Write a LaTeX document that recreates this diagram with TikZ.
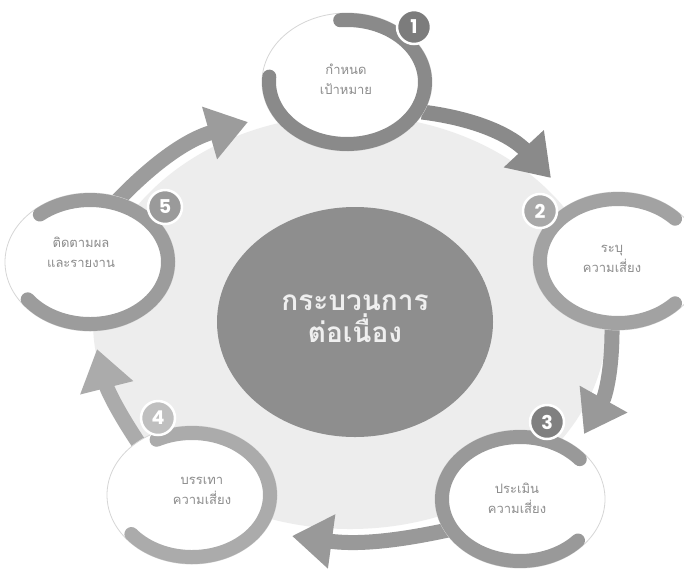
\documentclass[tikz,border=0pt]{standalone}
\usepackage{fontspec}
\newfontfamily\thaifont[Script=Thai]{Loma}
\newfontfamily\numfont{Poppins}
\usetikzlibrary{arrows.meta}
\definecolor{bgtone}{HTML}{EDEDED}
\definecolor{coretone}{HTML}{8E8E8E}
\definecolor{ringline}{HTML}{D6D6D6}
\definecolor{ringA}{HTML}{8A8A8A}
\definecolor{ringB}{HTML}{A2A2A2}
\definecolor{ringC}{HTML}{999999}
\definecolor{ringD}{HTML}{ABABAB}
\definecolor{ringE}{HTML}{9C9C9C}
\definecolor{badgeA}{HTML}{7C7C7C}
\definecolor{badgeB}{HTML}{A8A8A8}
\definecolor{badgeC}{HTML}{808080}
\definecolor{badgeD}{HTML}{BFBFBF}
\definecolor{badgeE}{HTML}{9A9A9A}
\definecolor{labeltone}{HTML}{8C8C8C}
\definecolor{coretext}{HTML}{EFEFEF}
\begin{document}
\begin{tikzpicture}[x=1pt,y=1pt,
  satfill/.style={fill=white, draw=ringline, line width=0.8pt},
  ringarc/.style={line width=14pt, line cap=round},
  flowarrow/.style={line width=15pt, -{Triangle[length=40pt,width=52pt]}},
  badge/.style={circle, minimum size=34pt, inner sep=0pt, draw=white, line width=2.5pt,
    text=white, font=\numfont\bfseries\fontsize{19}{19}\selectfont},
  sattext/.style={align=center, text=labeltone, inner sep=0pt,
    font=\thaifont\fontsize{13}{20}\selectfont},
  coretxt/.style={align=center, text=coretext, inner sep=0pt,
    font=\thaifont\bfseries\fontsize{28}{32}\selectfont}]
\useasboundingbox (0,0) rectangle (684,-574);
\fill[white] (0,0) rectangle (684,-574);
% light background
\fill[bgtone] (350,-322) ellipse [x radius=257, y radius=207];

% arrow end points
\coordinate (a12s) at (422,-112); \coordinate (a12e) at (551,-178);
\coordinate (a23s) at (612,-324); \coordinate (a23e) at (584,-434);
\coordinate (a34s) at (448,-530); \coordinate (a34e) at (292,-536);
\coordinate (a45s) at (140,-445); \coordinate (a45e) at (97,-349);
\coordinate (a51s) at (118,-200); \coordinate (a51e) at (248,-122);

\draw[flowarrow, draw=ringA] (a12s) to[bend left=20] (a12e);
\draw[flowarrow, draw=ringC] (a23s) to[bend left=15] (a23e);
\draw[flowarrow, draw=ringC] (a34s) to[bend left=10] (a34e);
\draw[flowarrow, draw=ringD] (a45s) to[bend left=10] (a45e);
\draw[flowarrow, draw=ringE] (a51s) to[bend left=15] (a51e);

% circle 1
\draw[satfill] (347,-82) ellipse [x radius=85, y radius=69];
\draw[ringarc, draw=ringA] (347,-82) ++(-185:78 and 62) arc[start angle=-185, end angle=95, x radius=78, y radius=62];
% circle 2
\draw[satfill] (618,-261) ellipse [x radius=85, y radius=69];
\draw[ringarc, draw=ringB] (618,-261) ++(43:78 and 62) arc[start angle=43, end angle=317, x radius=78, y radius=62];
% circle 3
\draw[satfill] (520,-499) ellipse [x radius=85, y radius=69];
\draw[ringarc, draw=ringC] (520,-499) ++(40:78 and 62) arc[start angle=40, end angle=318, x radius=78, y radius=62];
% circle 4
\draw[satfill] (192,-495) ellipse [x radius=85, y radius=69];
\draw[ringarc, draw=ringD] (192,-495) ++(-141:78 and 62) arc[start angle=-141, end angle=117, x radius=78, y radius=62];
% circle 5
\draw[satfill] (90,-262) ellipse [x radius=85, y radius=69];
\draw[ringarc, draw=ringE] (90,-262) ++(-143:78 and 62) arc[start angle=-143, end angle=130, x radius=78, y radius=62];

% badges
\node[badge, fill=badgeA] (n1) at (414,-27) {1};
\node[badge, fill=badgeB] (n2) at (540,-211) {2};
\node[badge, fill=badgeC] (n3) at (547,-422) {3};
\node[badge, fill=badgeD] (n4) at (158,-418) {4};
\node[badge, fill=badgeE] (n5) at (165,-207) {5};

% labels
\node[sattext] (t1) at (346,-79) {กำหนด\\เป้าหมาย};
\node[sattext] (t2) at (612,-259) {ระบุ\\ความเสี่ยง};
\node[sattext] (t3) at (517,-498) {ประเมิน\\ความเสี่ยง};
\node[sattext] (t4) at (202,-491) {บรรเทา\\ความเสี่ยง};
\node[sattext] (t5) at (81,-252) {ติดตามผล\\และรายงาน};

% centre
\fill[coretone] (355,-322) ellipse [x radius=138, y radius=115];
\node[coretxt] (core) at (355,-319) {กระบวนการ\\ต่อเนื่อง};
\end{tikzpicture}
\end{document}
